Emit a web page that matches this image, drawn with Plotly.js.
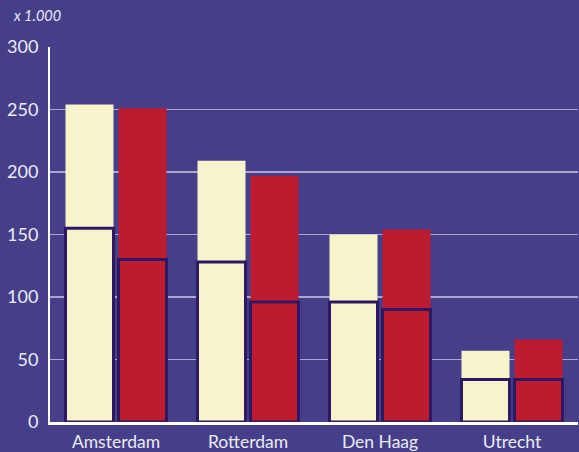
<!DOCTYPE html>
<html>
<head>
<meta charset="utf-8">
<script src="https://cdn.plot.ly/plotly-3.0.1.min.js"></script>
<style>
html,body{margin:0;padding:0;background:#453f8a;}
#chart{width:579px;height:452px;}
</style>
</head>
<body>
<div id="chart"></div>
<script>
// Data (values in thousands)
var cities = ['Amsterdam', 'Rotterdam', 'Den Haag', 'Utrecht'];
var creamTotal = [254, 209, 150, 57];
var creamPart = [155, 128, 96, 34];
var redTotal = [251, 197, 154, 66];
var redPart = [130, 96, 90, 34];
var yTicks = [0, 50, 100, 150, 200, 250, 300];

var BG = '#453f8a';
var CREAM = '#f7f4cc';
var RED = '#bd1b2f';
var OUTLINE = '#2e1862';
var W = 48 / 132;
var OFF_A = -(48 + 2.5) / 132;
var OFF_B = 2.5 / 132;

function bar(y, color, off, outlined) {
  return {
    type: 'bar', x: cities, y: y, width: W, offset: off,
    marker: {color: color, line: {color: OUTLINE, width: outlined ? 3 : 0}},
    hoverinfo: 'skip', showlegend: false
  };
}

var data = [
  bar(creamTotal, CREAM, OFF_A, false),
  bar(redTotal, RED, OFF_B, false),
  bar(creamPart, CREAM, OFF_A, true),
  bar(redPart, RED, OFF_B, true)
];

var FONT = 'Lato, "Open Sans", sans-serif';

var layout = {
  width: 579, height: 452,
  paper_bgcolor: BG, plot_bgcolor: BG,
  barmode: 'overlay',
  margin: {l: 50, r: 1, t: 47, b: 30, pad: 0},
  showlegend: false,
  font: {family: FONT, color: '#ecebf4'},
  xaxis: {
    type: 'category', range: [-0.5, 3.5],
    showline: true, linecolor: '#ffffff', linewidth: 3,
    showgrid: false, zeroline: false, ticks: '',
    ticklabelstandoff: 2,
    tickfont: {size: 17.5, color: '#ecebf4', family: FONT},
    layer: 'below traces', fixedrange: true
  },
  yaxis: {
    range: [0, 300], tickvals: yTicks,
    showline: true, linecolor: '#ffffff', linewidth: 2,
    showgrid: true, gridcolor: '#aaa6d2', gridwidth: 1.5,
    zeroline: false, ticks: '', ticklabelstandoff: 6,
    tickfont: {size: 18, color: '#ecebf4', family: FONT},
    layer: 'below traces', fixedrange: true
  },
  annotations: [{
    text: '<i>x 1.000</i>', xref: 'paper', yref: 'paper',
    x: -0.073, y: 1.085, xanchor: 'left', yanchor: 'middle',
    showarrow: false, font: {size: 14.5, color: '#ecebf4', family: FONT}
  }]
};

Plotly.newPlot('chart', data, layout, {displayModeBar: false, staticPlot: true});
</script>
</body>
</html>
